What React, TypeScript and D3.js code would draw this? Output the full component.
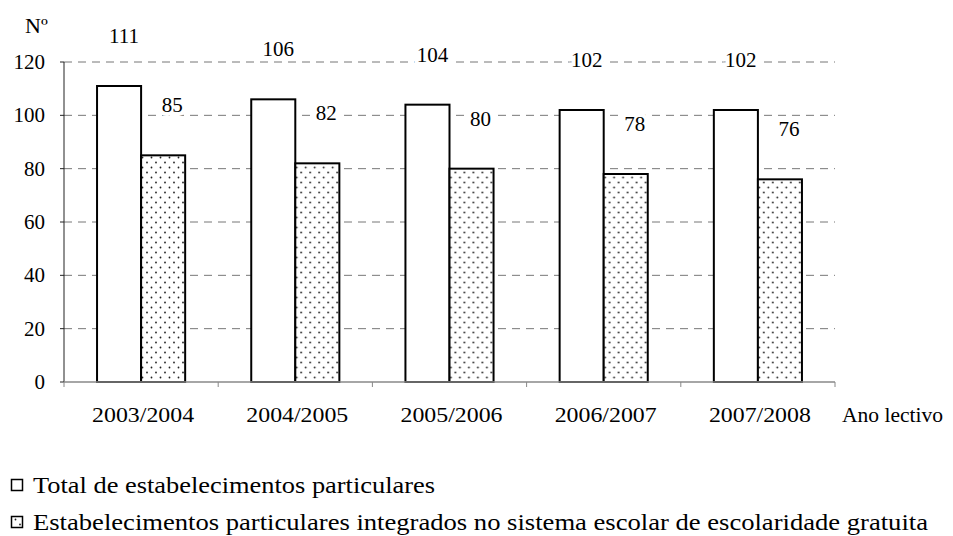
import React, { useEffect, useRef } from 'react';
import * as d3 from 'd3';

const years = ['2003/2004', '2004/2005', '2005/2006', '2006/2007', '2007/2008'];
const totalParticulares = [111, 106, 104, 102, 102];
const integrados = [85, 82, 80, 78, 76];
const yTicks = [0, 20, 40, 60, 80, 100, 120];
const seriesKeys = ['total', 'integrados'];
const legendLabels = [
  'Total de estabelecimentos particulares',
  'Estabelecimentos particulares integrados no sistema escolar de escolaridade gratuita'
];

const FONT = "'Liberation Serif', 'DejaVu Serif', serif";

function App() {
  const ref = useRef<SVGSVGElement | null>(null);

  useEffect(() => {
    const svg = d3.select(ref.current);
    svg.selectAll('*').remove();

    const left = 64, right = 835, top = 62, bottom = 382;

    const x0 = d3.scaleBand().domain(years).range([left, right]).padding(0);
    const x1 = d3.scaleBand().domain(seriesKeys).range([0, x0.bandwidth()])
      .paddingInner(0).paddingOuter(0.75);
    const y = d3.scaleLinear().domain([0, 120]).range([bottom, top]);

    // dotted pattern
    const defs = svg.append('defs');
    const pat = defs.append('pattern')
      .attr('id', 'dots')
      .attr('patternUnits', 'userSpaceOnUse')
      .attr('width', 9).attr('height', 10);
    pat.append('rect').attr('width', 9).attr('height', 10).attr('fill', '#fff');
    pat.append('circle').attr('cx', 2).attr('cy', 2.5).attr('r', 0.9).attr('fill', '#222');
    pat.append('circle').attr('cx', 6.5).attr('cy', 7.5).attr('r', 0.9).attr('fill', '#222');

    // grid lines
    svg.append('g').selectAll('line')
      .data(yTicks.filter(d => d > 0))
      .enter().append('line')
      .attr('x1', left).attr('x2', right)
      .attr('y1', d => y(d)).attr('y2', d => y(d))
      .attr('stroke', '#777')
      .attr('stroke-width', 1)
      .attr('stroke-dasharray', '8,6');

    const txt = (sel: any, size: number) =>
      sel.style('font-family', FONT).style('font-size', size + 'px');

    // y tick labels
    txt(svg.append('g').selectAll('text')
      .data(yTicks)
      .enter().append('text')
      .attr('x', 45)
      .attr('y', d => y(d) + 7)
      .attr('text-anchor', 'end'), 21)
      .text(d => d);

    // bars
    const rows = years.map((yr, i) => ({ year: yr, total: totalParticulares[i], integrados: integrados[i] }));
    const groups = svg.append('g').selectAll('g')
      .data(rows)
      .enter().append('g')
      .attr('transform', d => 'translate(' + x0(d.year) + ',0)');

    groups.selectAll('rect')
      .data(d => seriesKeys.map(k => ({ key: k, value: (d as any)[k] as number })))
      .enter().append('rect')
      .attr('x', d => x1(d.key) as number)
      .attr('width', x1.bandwidth())
      .attr('y', d => y(d.value))
      .attr('height', d => bottom - y(d.value))
      .attr('fill', d => d.key === 'total' ? '#fff' : 'url(#dots)')
      .attr('stroke', '#000')
      .attr('stroke-width', 2);

    // axes
    svg.append('line')
      .attr('x1', left).attr('x2', left)
      .attr('y1', top).attr('y2', bottom)
      .attr('stroke', '#222').attr('stroke-width', 1);
    svg.append('g').selectAll('line')
      .data(yTicks)
      .enter().append('line')
      .attr('x1', left - 4).attr('x2', left)
      .attr('y1', d => y(d)).attr('y2', d => y(d))
      .attr('stroke', '#222');

    svg.append('line')
      .attr('x1', left).attr('x2', right)
      .attr('y1', bottom).attr('y2', bottom)
      .attr('stroke', '#888').attr('stroke-width', 1.5);
    const bounds = years.map(d => x0(d) as number).concat([right]);
    svg.append('g').selectAll('line')
      .data(bounds)
      .enter().append('line')
      .attr('x1', d => d).attr('x2', d => d)
      .attr('y1', bottom).attr('y2', bottom + 5)
      .attr('stroke', '#888');

    // data labels
    txt(groups.selectAll('text')
      .data(d => seriesKeys.map(k => ({ key: k, value: (d as any)[k] as number })))
      .enter().append('text')
      .attr('x', d => (x1(d.key) as number) + x1.bandwidth() / 2 + (d.key === 'total' ? 5 : 9))
      .attr('y', d => y(d.value) - 43)
      .attr('text-anchor', 'middle')
      .attr('stroke', '#fff')
      .attr('stroke-width', 8)
      .attr('paint-order', 'stroke')
      .attr('fill', '#000'), 21)
      .text(d => d.value);

    // category labels
    txt(svg.append('g').selectAll('text')
      .data(years)
      .enter().append('text')
      .attr('x', d => (x0(d) as number) + x0.bandwidth() / 2 + 2)
      .attr('y', 422)
      .attr('text-anchor', 'middle')
      .attr('textLength', 102)
      .attr('lengthAdjust', 'spacingAndGlyphs'), 22)
      .text(d => d);

    txt(svg.append('text')
      .attr('x', 842).attr('y', 422)
      .attr('textLength', 101)
      .attr('lengthAdjust', 'spacingAndGlyphs'), 22)
      .text('Ano lectivo');

    txt(svg.append('text')
      .attr('x', 25).attr('y', 33), 22)
      .text('Nº');

    // legend
    const legendY = [485, 522];
    const legendW = [402, 895];
    const lg = svg.append('g').selectAll('g')
      .data(legendLabels)
      .enter().append('g')
      .attr('transform', (d, i) => 'translate(0,' + legendY[i] + ')');
    lg.append('rect')
      .attr('x', 11.5).attr('y', -5.5)
      .attr('width', 11).attr('height', 11)
      .attr('fill', (d, i) => i === 0 ? '#fff' : 'url(#dots)')
      .attr('stroke', '#000').attr('stroke-width', 1.5);
    txt(lg.append('text')
      .attr('x', 33).attr('y', 8)
      .attr('textLength', (d, i) => legendW[i])
      .attr('lengthAdjust', 'spacingAndGlyphs'), 24)
      .text(d => d);
  }, []);

  return (
    <svg ref={ref} width={953} height={536}
      style={{ position: 'absolute', left: 0, top: 0, background: '#fff' }} />
  );
}

export default App;
